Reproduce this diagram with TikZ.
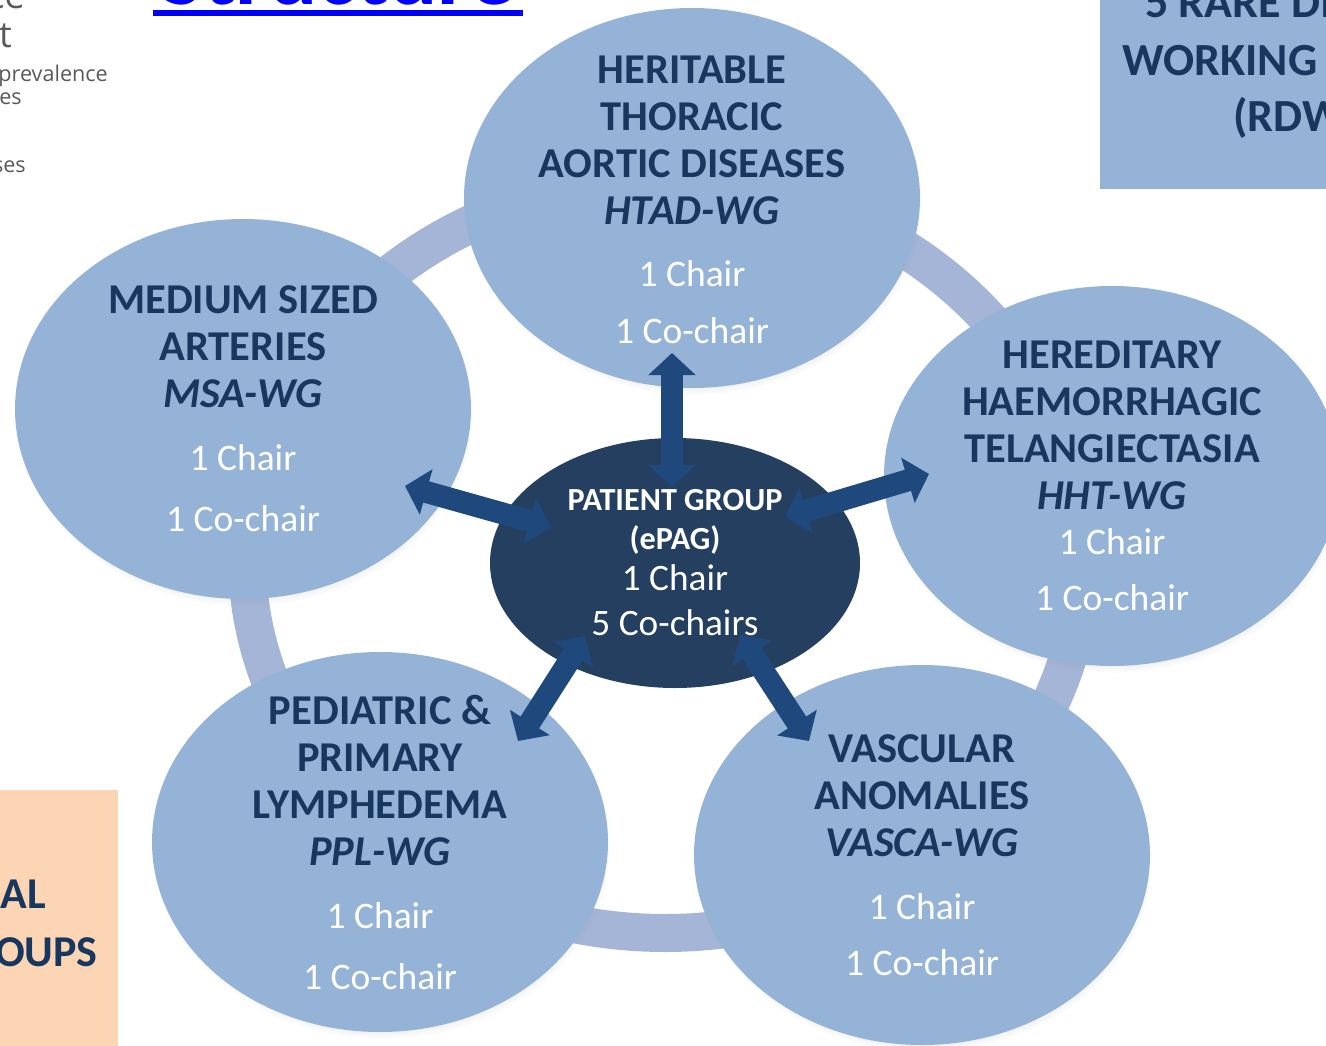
\documentclass[tikz,border=0pt]{standalone}
\usepackage{fontspec}
\setmainfont{Carlito}
\newfontfamily\grayfont{Open Sans}
\usetikzlibrary{arrows.meta,shadows,shapes.geometric,fadings}
\definecolor{satfill}{HTML}{95B3D7}
\definecolor{navy}{HTML}{17375E}
\definecolor{corefill}{HTML}{243F60}
\definecolor{arrcol}{HTML}{1F497D}
\definecolor{ringcol}{HTML}{A5B5D7}
\definecolor{peach}{HTML}{FCD5B5}
\definecolor{grayt}{HTML}{595959}
\definecolor{titleblue}{HTML}{0000FF}
\begin{document}
\begin{tikzpicture}[x=1pt,y=-1pt,
  satnode/.style={ellipse, fill=satfill, minimum width=456pt, minimum height=380pt, inner sep=0pt,
    circular drop shadow={shadow scale=1.0, shadow xshift=2pt, shadow yshift=-7pt, opacity=0.35}},
  corenode/.style={ellipse, fill=corefill, minimum width=370pt, minimum height=250pt, inner sep=0pt},
  sattext/.style={align=center, text=navy, inner sep=0pt, font=\fontsize{42.5}{47}\selectfont\bfseries},
  bigarrow/.style={draw=arrcol, line width=22pt, {Triangle[width=46pt,length=22pt]}-{Triangle[width=46pt,length=22pt]}},
  boxtext/.style={text=navy, inner sep=0pt, font=\fontsize{46}{56}\selectfont\bfseries},
  graytext/.style={text=grayt, inner sep=0pt, font=\grayfont\fontsize{21.6}{24}\selectfont}
]
\newcommand{\chairline}[1]{{\mdseries\color{white}\fontsize{37.5}{47}\selectfont #1}}
\useasboundingbox (0,0) rectangle (1326,1045);
\clip (0,0) rectangle (1326,1045);

% side boxes
\node[rectangle, fill=satfill, anchor=north west, minimum width=300pt, minimum height=200pt, inner sep=0pt] (rdwgbox) at (1100,-11) {};
\node[boxtext, anchor=base west] (rdwg1) at (1145,17) {5 RARE DISEASE};
\node[boxtext, anchor=base west] (rdwg2) at (1122,75) {WORKING GROUPS};
\node[boxtext, anchor=base west] (rdwg3) at (1233,131) {(RDWGs)};

\node[rectangle, fill=peach, anchor=north west, minimum width=128pt, minimum height=270pt, inner sep=0pt] (peachbox) at (-10,790) {};
\node[boxtext, anchor=base east, font=\fontsize{44}{52}\selectfont\bfseries] (peach1) at (46,908) {AL};
\node[boxtext, anchor=base east, font=\fontsize{44}{52}\selectfont\bfseries] (peach2) at (98,966) {OUPS};

% top-left fragments
\node[graytext, anchor=base east, font=\grayfont\fontsize{36}{40}\selectfont] (g1) at (25,8) {ce};
\node[graytext, anchor=base east, font=\grayfont\fontsize{36}{40}\selectfont] (g2) at (12,47) {t};
\node[graytext, anchor=base east] (g3) at (108,81) {prevalence};
\node[graytext, anchor=base east] (g4) at (22,104) {es};
\node[graytext, anchor=base east] (g5) at (26,172) {ses};

% title
\node[text=titleblue, anchor=base, inner sep=0pt, font=\fontsize{92}{100}\selectfont\bfseries] (title) at (338,4) {Structure};
\fill[titleblue] (153,10) rectangle (523,16);

% ring
\node[ellipse, draw=ringcol, line width=38pt, minimum width=836pt, minimum height=752pt, inner sep=0pt] (ring) at (665,557) {};

% satellites
\node[satnode] (htad) at (692,198) {};
\node[satnode] (msa) at (243,409) {};
\node[satnode] (hht) at (1112,476) {};
\node[satnode] (ppl) at (380,842) {};
\node[satnode] (vasca) at (922,855) {};
\node[corenode] (core) at (675,563) {};

\node[sattext] (htadT) at ([yshift=-2pt]htad.center) {HERITABLE\\THORACIC\\AORTIC DISEASES\\\textit{HTAD-WG}\\[15pt]
  \chairline{1 Chair}\\[10pt]\chairline{1 Co-chair}};
\node[sattext] (msaT) at (msa) {MEDIUM SIZED\\ARTERIES\\\textit{MSA-WG}\\[16pt]
  \chairline{1 Chair}\\[14pt]\chairline{1 Co-chair}};
\node[sattext] (hhtT) at (hht) {HEREDITARY\\HAEMORRHAGIC\\TELANGIECTASIA\\\textit{HHT-WG}\\[-2pt]
  \chairline{1 Chair}\\[9pt]\chairline{1 Co-chair}};
\node[sattext] (pplT) at (ppl) {PEDIATRIC \&\\PRIMARY\\LYMPHEDEMA\\\textit{PPL-WG}\\[16pt]
  \chairline{1 Chair}\\[14pt]\chairline{1 Co-chair}};
\node[sattext] (vascaT) at (vasca) {VASCULAR\\ANOMALIES\\\textit{VASCA-WG}\\[16pt]
  \chairline{1 Chair}\\[9pt]\chairline{1 Co-chair}};
\node[sattext, text=white, font=\fontsize{32.2}{39}\selectfont\bfseries] (coreT) at (core) {PATIENT GROUP\\(ePAG)\\[2pt]
  {\mdseries\fontsize{37.3}{39}\selectfont 1 Chair}\\[6pt]{\mdseries\fontsize{37.3}{39}\selectfont 5 Co-chairs}};

% arrow ends
\coordinate (aT1) at (672,353);
\coordinate (aT2) at (672,487);
\coordinate (aL1) at (405,486);
\coordinate (aL2) at (551,527);
\coordinate (aR1) at (785,517);
\coordinate (aR2) at (929,474);
\coordinate (aBL1) at (585,636);
\coordinate (aBL2) at (518,741);
\coordinate (aBR1) at (740,635);
\coordinate (aBR2) at (809,741);
\draw[bigarrow] (aT1) -- (aT2);
\draw[bigarrow] (aL1) -- (aL2);
\draw[bigarrow] (aR1) -- (aR2);
\draw[bigarrow] (aBL1) -- (aBL2);
\draw[bigarrow] (aBR1) -- (aBR2);
\end{tikzpicture}
\end{document}
